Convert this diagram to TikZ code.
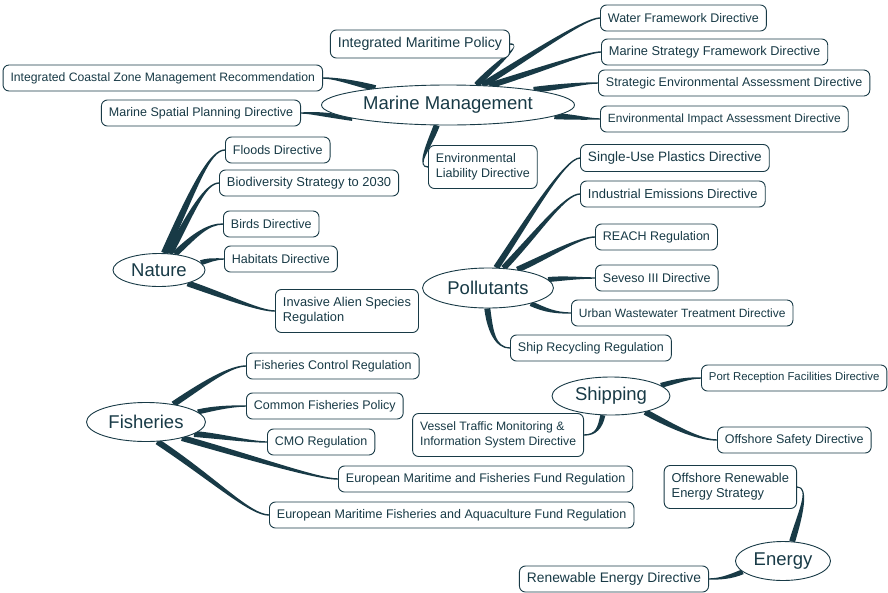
\documentclass[tikz,border=0pt]{standalone}
\usepackage{fontspec}
\setmainfont{Liberation Sans}
\usetikzlibrary{shapes.geometric,calc,backgrounds}
\definecolor{ink}{RGB}{24,58,70}

\tikzset{
  hub/.style={ellipse,draw=ink,fill=white,line width=0.9pt,inner sep=0pt,text=ink,
    font=\fontsize{18.5}{22}\selectfont},
  leaf/.style={rectangle,rounded corners=6pt,draw=ink,fill=white,line width=0.9pt,text=ink,
    inner xsep=7.5pt,inner ysep=4pt,minimum height=26pt,align=left,
    font=\fontsize{12.5}{15}\selectfont},
  twoline/.style={minimum height=43pt},
  fsize/.style={font=\fontsize{#1}{15}\selectfont}
}

% tapered branch: [half width at root]{start}{control 1}{control 2}{end}
\newcommand{\branch}[5][3pt]{%
  \path (#2) coordinate (bs) (#3) coordinate (bc) (#4) coordinate (bd) (#5) coordinate (be);
  \path ($(bs)!#1!90:(bc)$) coordinate (p1) ($(bs)!#1!-90:(bc)$) coordinate (q1)
        ($(be)!0.7pt!-90:(bd)$) coordinate (p2) ($(be)!0.7pt!90:(bd)$) coordinate (q2);
  \fill[ink] (p1) .. controls ($(bc)+(p1)-(bs)$) and ($(bd)+(p2)-(be)$) .. (p2)
    -- (q2) .. controls ($(bd)+(q2)-(be)$) and ($(bc)+(q1)-(bs)$) .. (q1) -- cycle;
}

\begin{document}
\begin{tikzpicture}[x=1pt,y=-1pt]
  \useasboundingbox (0,0) rectangle (888,592);

  % hubs
  \node[hub,minimum width=253pt,minimum height=40pt] (mm) at (448,105) {Marine Management};
  \node[hub,minimum width=92pt,minimum height=33pt] (nat) at (159,270) {Nature};
  \node[hub,minimum width=131pt,minimum height=40pt] (pol) at (488,288) {Pollutants};
  \node[hub,minimum width=119pt,minimum height=39pt] (fish) at (146,422) {Fisheries};
  \node[hub,minimum width=118pt,minimum height=38pt] (ship) at (611,396) {Shipping};
  \node[hub,minimum width=95pt,minimum height=39pt] (energy) at (783,561) {Energy};

  % marine management
  \node[leaf,fsize=14.2,minimum height=28pt,anchor=east] (imp) at (510,44) {Integrated Maritime Policy};
  \node[leaf,fsize=12.2,anchor=east] (iczm) at (323,78) {Integrated Coastal Zone Management Recommendation};
  \node[leaf,anchor=east] (msp) at (301,113) {Marine Spatial Planning Directive};
  \node[leaf,anchor=west] (wfd) at (600,18) {Water Framework Directive};
  \node[leaf,fsize=12.8,anchor=west] (msfd) at (601,52) {Marine Strategy Framework Directive};
  \node[leaf,anchor=west] (sea) at (598,83) {Strategic Environmental Assessment Directive};
  \node[leaf,fsize=11.9,anchor=west] (eia) at (600,119) {Environmental Impact Assessment Directive};
  \node[leaf,twoline,anchor=west] (eld) at (428,167) {Environmental\\Liability Directive};

  % nature
  \node[leaf,anchor=west] (floods) at (225,150) {Floods Directive};
  \node[leaf,fsize=12.9,anchor=west] (bio) at (219,183) {Biodiversity Strategy to 2030};
  \node[leaf,anchor=west] (birds) at (223,224) {Birds Directive};
  \node[leaf,anchor=west] (hab) at (224,259) {Habitats Directive};
  \node[leaf,fsize=12.8,twoline,anchor=west] (ias) at (275,311) {Invasive Alien Species\\Regulation};

  % pollutants
  \node[leaf,fsize=13.6,minimum height=27pt,anchor=west] (sup) at (580,158) {Single-Use Plastics Directive};
  \node[leaf,fsize=13,anchor=west] (ied) at (580,194) {Industrial Emissions Directive};
  \node[leaf,anchor=west] (reach) at (595,237) {REACH Regulation};
  \node[leaf,anchor=west] (seveso) at (595,278) {Seveso III Directive};
  \node[leaf,fsize=12,anchor=west] (uwtd) at (571,313) {Urban Wastewater Treatment Directive};
  \node[leaf,anchor=west] (srr) at (510,348) {Ship Recycling Regulation};

  % fisheries
  \node[leaf,anchor=west] (fcr) at (246,366) {Fisheries Control Regulation};
  \node[leaf,anchor=west] (cfp) at (246,406) {Common Fisheries Policy};
  \node[leaf,anchor=west] (cmo) at (267,442) {CMO Regulation};
  \node[leaf,anchor=west] (emff) at (338,479) {European Maritime and Fisheries Fund Regulation};
  \node[leaf,anchor=west] (emfaf) at (269,515) {European Maritime Fisheries and Aquaculture Fund Regulation};

  % shipping
  \node[leaf,fsize=11.4,anchor=west] (prf) at (701,378) {Port Reception Facilities Directive};
  \node[leaf,anchor=west] (osd) at (717,440) {Offshore Safety Directive};
  \node[leaf,fsize=12.2,twoline,anchor=east] (vtm) at (584,435) {Vessel Traffic Monitoring \&\\Information System Directive};

  % energy
  \node[leaf,fsize=12.9,twoline,anchor=east] (ores) at (797,487) {Offshore Renewable\\Energy Strategy};
  \node[leaf,fsize=13.8,anchor=east] (red) at (709,579) {Renewable Energy Directive};

  \begin{scope}[on background layer]
    \branch{mm.35}{500,60}{524,44}{imp.east}
    \branch{mm.30}{530,56}{585,18}{wfd.west}
    \branch{mm.25}{540,70}{588,52}{msfd.west}
    \branch{mm.10}{565,86}{585,83}{sea.west}
    \branch{mm.-6}{575,117}{588,119}{eia.west}
    \branch{mm.167}{355,83}{335,78}{iczm.east}
    \branch[2.5pt]{mm.188}{315,113}{310,113}{msp.east}
    \branch{mm.241}{428,148}{416,167}{eld.west}

    \branch[3.5pt]{nat.72}{195,185}{210,150}{floods.west}
    \branch[3.5pt]{nat.58}{190,215}{205,183}{bio.west}
    \branch{nat.45}{195,235}{208,224}{birds.west}
    \branch[2.5pt]{nat.10}{210,260}{215,259}{hab.west}
    \branch{nat.-25}{230,298}{260,311}{ias.west}

    \branch{pol.68}{528,220}{565,158}{sup.west}
    \branch{pol.52}{538,232}{565,194}{ied.west}
    \branch{pol.32}{550,255}{580,237}{reach.west}
    \branch[2.5pt]{pol.8}{565,278}{580,278}{seveso.west}
    \branch[2.5pt]{pol.-20}{545,310}{555,313}{uwtd.west}
    \branch{pol.268}{490,330}{495,348}{srr.west}

    \branch{fish.33}{205,383}{230,366}{fcr.west}
    \branch[2.5pt]{fish.11}{215,408}{232,406}{cfp.west}
    \branch{fish.-14}{220,436}{250,442}{cmo.west}
    \branch{fish.-24}{260,460}{318,479}{emff.west}
    \branch{fish.-60}{215,480}{250,515}{emfaf.west}

    \branch[2.5pt]{ship.12}{680,380}{690,378}{prf.west}
    \branch{ship.-25}{675,428}{700,440}{osd.west}
    \branch[2.5pt]{ship.247}{600,428}{596,435}{vtm.east}

    \branch{energy.65}{800,515}{810,487}{ores.east}
    \branch[2.5pt]{energy.195}{730,577}{720,579}{red.east}
  \end{scope}
\end{tikzpicture}
\end{document}
